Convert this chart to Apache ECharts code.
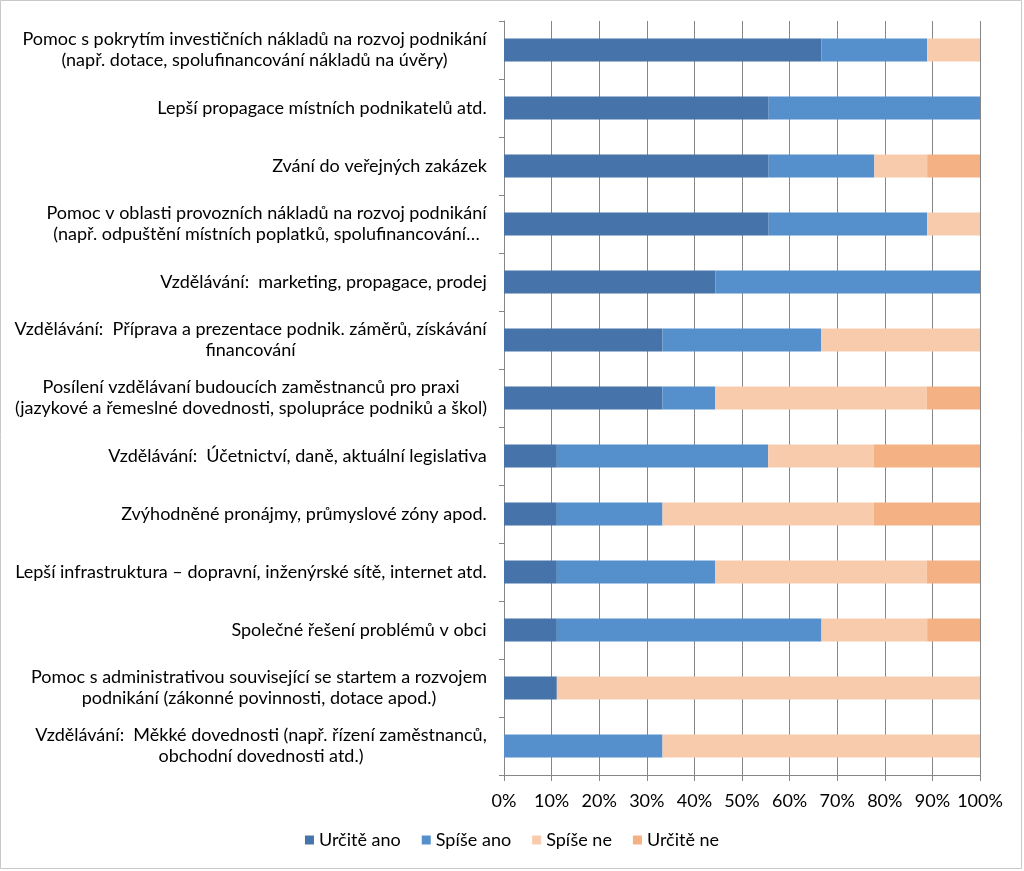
<!DOCTYPE html>
<html>
<head>
<meta charset="utf-8">
<script src="https://cdn.jsdelivr.net/npm/echarts@6/dist/echarts.min.js"></script>
<style>
html,body{margin:0;padding:0;background:#fff;}
#chart{width:1024px;height:871px;}
</style>
</head>
<body>
<div id="chart"></div>
<script>
const categories = [
  "Pomoc s pokrytím investičních nákladů na rozvoj podnikání\n(např. dotace, spolufinancování nákladů na úvěry)",
  "Lepší propagace místních podnikatelů atd.",
  "Zvání do veřejných zakázek",
  "Pomoc v oblasti provozních nákladů na rozvoj podnikání\n(např. odpuštění místních poplatků, spolufinancování…",
  "Vzdělávání:  marketing, propagace, prodej",
  "Vzdělávání:  Příprava a prezentace podnik. záměrů, získávání\nfinancování",
  "Posílení vzdělávaní budoucích zaměstnanců pro praxi\n(jazykové a řemeslné dovednosti, spolupráce podniků a škol)",
  "Vzdělávání:  Účetnictví, daně, aktuální legislativa",
  "Zvýhodněné pronájmy, průmyslové zóny apod.",
  "Lepší infrastruktura – dopravní, inženýrské sítě, internet atd.",
  "Společné řešení problémů v obci",
  "Pomoc s administrativou související se startem a rozvojem\npodnikání (zákonné povinnosti, dotace apod.)",
  "Vzdělávání:  Měkké dovednosti (např. řízení zaměstnanců,\nobchodní dovednosti atd.)"
];
const seriesNames = ["Určitě ano", "Spíše ano", "Spíše ne", "Určitě ne"];
const urciteAno = [66.7, 55.6, 55.6, 55.6, 44.4, 33.3, 33.3, 11.1, 11.1, 11.1, 11.1, 11.1, 0];
const spiseAno  = [22.2, 44.4, 22.2, 33.3, 55.6, 33.3, 11.1, 44.4, 22.2, 33.3, 55.6, 0, 33.3];
const spiseNe   = [11.1, 0, 11.1, 11.1, 0, 33.4, 44.4, 22.2, 44.4, 44.4, 22.2, 88.9, 66.7];
const urciteNe  = [0, 0, 11.1, 0, 0, 0, 11.2, 22.3, 22.3, 11.2, 11.1, 0, 0];
const xTicks = [0, 10, 20, 30, 40, 50, 60, 70, 80, 90, 100];
const colors = ["#4674AA", "#5590CD", "#F8CBAD", "#F4B183"];

const FONT_FAMILY = "Lato";
const FONT_SIZE = 18;
const LINE_H = 21;

const cv = document.createElement('canvas');
const ctx = cv.getContext('2d');
ctx.font = FONT_SIZE + "px " + FONT_FAMILY;
const rich = {};
const labelMap = {};
categories.forEach((c, i) => {
  const lines = c.split("\n");
  const w = Math.ceil(Math.max(...lines.map(l => ctx.measureText(l).width)));
  const key = "l" + i;
  rich[key] = {width: w, align: "center", fontSize: FONT_SIZE, fontFamily: FONT_FAMILY, lineHeight: LINE_H, color: "#000"};
  labelMap[c] = lines.map(l => "{" + key + "|" + l + "}").join("\n");
});

const chart = echarts.init(document.getElementById('chart'));
const seriesData = [urciteAno, spiseAno, spiseNe, urciteNe];
chart.setOption({
  animation: false,
  color: colors,
  grid: {left: 504, right: 44, top: 21, bottom: 96, containLabel: false},
  xAxis: {
    type: 'value', min: 0, max: 100, interval: 10,
    axisLine: {show: true, lineStyle: {color: '#868686', width: 1}},
    axisTick: {show: true, length: 6, lineStyle: {color: '#868686'}},
    splitLine: {show: true, lineStyle: {color: '#868686', width: 1}},
    axisLabel: {formatter: v => xTicks.includes(v) ? v + '%' : '', fontSize: 18, fontFamily: FONT_FAMILY, color: '#000', margin: 17}
  },
  yAxis: {
    type: 'category', inverse: true, data: categories,
    axisLine: {show: true, lineStyle: {color: '#868686', width: 1}},
    axisTick: {show: true, length: 5, lineStyle: {color: '#868686'}},
    splitLine: {show: false},
    axisLabel: {formatter: v => labelMap[v], rich: rich, margin: 17, interval: 0}
  },
  legend: {
    bottom: 17, left: 'center', itemWidth: 9, itemHeight: 9, itemGap: 21, icon: 'rect',
    textStyle: {fontSize: 18, fontFamily: FONT_FAMILY, color: '#000'},
    data: seriesNames
  },
  graphic: [{type: 'rect', shape: {x: 0.5, y: 0.5, width: 1021, height: 868}, style: {fill: 'none', stroke: '#c8c8c8', lineWidth: 1}, silent: true}],
  series: seriesNames.map((n, k) => ({
    name: n, type: 'bar', stack: 'total', barWidth: 23,
    data: seriesData[k]
  }))
});
</script>
</body>
</html>
